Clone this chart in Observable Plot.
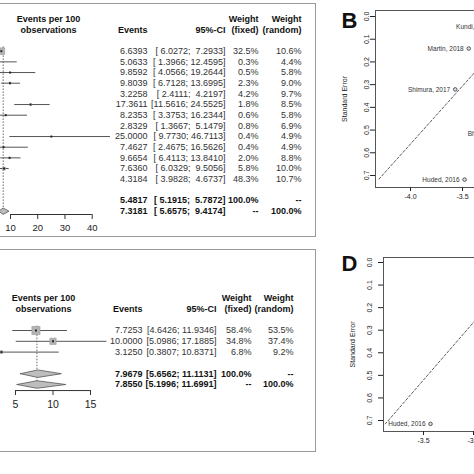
<!DOCTYPE html>
<html><head><meta charset="utf-8">
<script src="https://cdn.jsdelivr.net/npm/d3@7"></script>
<script src="https://cdn.jsdelivr.net/npm/@observablehq/plot@0.6"></script>
<style>
html,body{margin:0;padding:0;background:#fff;}
#root{position:relative;width:474px;height:474px;overflow:hidden;background:#fff;}
#root svg{position:absolute;overflow:hidden;}
#root svg text{white-space:pre;}
.box{position:absolute;border:1.5px solid #9a9a9a;box-sizing:border-box;}
</style></head><body><div id="root"></div>
<script>
// ---------- Panel A (forest, 13 studies) ----------
const eventsA = [6.6393, 5.0633, 9.8592, 9.8039, 3.2258, 17.3611, 8.2353, 2.8329, 25.0000, 7.4627, 9.6654, 7.6360, 4.3184];
const lowerA  = [6.0272, 1.3966, 4.0566, 6.7128, 2.4111, 11.5616, 3.3753, 1.3667, 9.7730, 2.4675, 6.4113, 6.0329, 3.9828];
const upperA  = [7.2933, 12.4595, 19.2644, 13.6995, 4.2197, 24.5525, 16.2344, 5.1479, 46.7113, 16.5626, 13.8410, 9.5056, 4.6737];
const wFixedA = [32.5, 0.3, 0.5, 2.3, 4.2, 1.8, 0.6, 0.8, 0.4, 0.4, 2.0, 5.8, 48.3];
const wRandA  = [10.6, 4.4, 5.8, 9.0, 9.7, 8.5, 5.8, 6.9, 4.9, 4.9, 8.8, 10.0, 10.7];
const pooledA = {fixed: [5.4817, 5.1915, 5.7872], random: [7.3181, 5.6575, 9.4174]};
const ticksA = [10, 20, 30, 40];

// ---------- Panel C (forest, 3 studies) ----------
const eventsC = [7.7253, 10.0000, 3.1250];
const lowerC  = [4.6426, 5.0986, 0.3807];
const upperC  = [11.9346, 17.1885, 10.8371];
const wFixedC = [58.4, 34.8, 6.8];
const wRandC  = [53.5, 37.4, 9.2];
const pooledC = {fixed: [7.9679, 5.6562, 11.1131], random: [7.8550, 5.1996, 11.6991]};
const ticksC = [5, 10, 15];

// ---------- shared forest header text ----------
const titleLines = ["Events per 100", "observations"];
const colHeads = {events: ["", "Events"], ci: ["", "95%-CI"], wf: ["Weight", "(fixed)"], wr: ["Weight", "(random)"]};

// ---------- Panel B (funnel) ----------
const studiesB = ["Kundi, 2019", "Martin, 2018", "Shimura, 2017", "Bhat, 2018", "Huded, 2016"];
const logEstB  = [-3.18, -3.44, -3.57, -3.10, -3.48];
const seB      = [0.048, 0.141, 0.321, 0.515, 0.718];
const pooledLogB = -2.90;
const ticksBx = [-4.0, -3.5, -3.0];

// ---------- Panel D (funnel) ----------
const studiesD = ["Huded, 2016"];
const logEstD  = [-3.43];
const seD      = [0.715];
const pooledLogD = -2.48;
const ticksDx = [-3.5, -3.0];

const ticksSE = [0, 0.1, 0.2, 0.3, 0.4, 0.5, 0.6, 0.7];

// ================================================================
const FONT = "'Liberation Sans', Arial, Helvetica, sans-serif";
const root = document.getElementById("root");
const f4 = d => d.toFixed(4);
const pct = d => d.toFixed(1) + "%";

function place(el, left, top) {
  el.style.left = left + "px";
  el.style.top = top + "px";
  root.appendChild(el);
}
function box(left, top, w, h) {
  const d = document.createElement("div");
  d.className = "box";
  Object.assign(d.style, {left: left + "px", top: top + "px", width: w + "px", height: h + "px"});
  root.appendChild(d);
}

function forest(events, lower, upper, wF, wR, pooled, ticks, L) {
  const studies = events.map((e, i) => ({row: i + 1, est: e, lo: lower[i], hi: upper[i], wf: wF[i], wr: wR[i]}));
  const n = studies.length;
  const summ = [
    {row: n + 2, est: pooled.fixed[0], lo: pooled.fixed[1], hi: pooled.fixed[2], wf: "100.0%", wr: "--", type: "fixed"},
    {row: n + 3, est: pooled.random[0], lo: pooled.random[1], hi: pooled.random[2], wf: "--", wr: "100.0%", type: "random"}
  ];
  // R-style padding of CI bounds to the widest entry in the column
  const all = studies.concat(summ);
  const wLo = d3.max(all, d => f4(d.lo).length), wHi = d3.max(all, d => f4(d.hi).length);
  const ciText = d => "[" + f4(d.lo).padStart(wLo, " ") + "; " + f4(d.hi).padStart(wHi, " ") + "]";

  const random = summ[1];
  const diamonds = summ.flatMap(s => [
    {type: s.type, x: s.lo, y: s.row}, {type: s.type, x: s.est, y: s.row - L.dh},
    {type: s.type, x: s.hi, y: s.row}, {type: s.type, x: s.est, y: s.row + L.dh},
    {type: s.type, x: s.lo, y: s.row}
  ]);
  const headMarks = [];
  headMarks.push(Plot.text(titleLines.map((t, i) => ({row: i - 2, text: t})), {
    y: "row", text: "text", frameAnchor: "left", dx: L.title, textAnchor: "middle",
    fontSize: L.fs, fontWeight: "bold", fill: "#111"
  }));
  for (const k of Object.keys(colHeads)) {
    const items = colHeads[k].map((t, i) => ({row: i - 2, text: t})).filter(d => d.text);
    headMarks.push(Plot.text(items, {
      y: "row", text: "text", frameAnchor: "left", dx: L.cols[k], textAnchor: "end",
      fontSize: L.fs, fontWeight: "bold", fill: "#111"
    }));
  }

  const colText = (data, key, fn, bold) => Plot.text(data, {
    y: "row", text: fn, frameAnchor: "left", dx: L.cols[key], textAnchor: "end",
    fontSize: L.fs, fontWeight: bold ? "bold" : "normal", fill: bold ? "#111" : "#333"
  });

  return Plot.plot({
    width: L.w, height: L.h,
    marginLeft: 0, marginRight: 0, marginTop: 0, marginBottom: L.h - L.axisY,
    style: {fontFamily: FONT, background: "transparent", color: "#222"},
    x: {domain: [ticks[0], ticks[ticks.length - 1]], range: L.xRange},
    y: {domain: [1, n + 3], range: L.yRange, axis: null},
    r: {type: "sqrt", domain: [0, d3.max(wF)], range: [0, L.rMax]},
    marks: [
      Plot.ruleX([random], {x: "est", y1: 0.6, y2: random.row, stroke: "#666", strokeDasharray: "1.5,1.5"}),
      Plot.ruleY(studies, {y: "row", x1: "lo", x2: "hi", stroke: "#555", strokeWidth: 1}),
      Plot.dot(studies, {x: "est", y: "row", r: "wf", symbol: "square", fill: "#b4b4b4", stroke: "#999", strokeWidth: 0.6}),
      Plot.dot(studies, {x: "est", y: "row", r: 1.1, symbol: "square", fill: "#222", stroke: "none"}),
      Plot.line(diamonds, {x: "x", y: "y", z: "type", fill: "#bdbdbd", stroke: "#555", strokeWidth: 0.8}),
      Plot.ruleY([{row: L.axisRow, a: d3.min(ticks), b: d3.max(ticks)}], {y: "row", x1: "a", x2: "b", stroke: "#333"}),
      Plot.axisX({ticks, tickSize: 5, tickPadding: L.tickPad, fontSize: L.tfs, tickFormat: d => String(d), stroke: "#333"}),
      ...headMarks,
      colText(studies, "events", d => f4(d.est), false),
      colText(studies, "ci", ciText, false),
      colText(studies, "wf", d => pct(d.wf), false),
      colText(studies, "wr", d => pct(d.wr), false),
      colText(summ, "events", d => f4(d.est), true),
      colText(summ, "ci", ciText, true),
      colText(summ, "wf", d => d.wf, true),
      colText(summ, "wr", d => d.wr, true)
    ]
  });
}

function funnel(names, te, se, mu, xTicks, tag, L) {
  const pts = names.map((s, i) => ({study: s, te: te[i], se: se[i]}));
  const seMax = d3.max(se);
  const bounds = [-1, 1].flatMap(side => [
    {side, se: 0, x: mu}, {side, se: seMax, x: mu + side * 1.96 * seMax}
  ]);
  return Plot.plot({
    width: L.w, height: L.h,
    marginLeft: L.ml, marginTop: L.mt, marginBottom: L.mb, marginRight: 0,
    style: {fontFamily: FONT, background: "transparent", color: "#222"},
    x: {domain: [xTicks[0], xTicks[1]], range: L.xRange},
    y: {domain: [0, 0.7], range: L.yRange},
    marks: [
      Plot.frame({stroke: "#555"}),
      Plot.line(bounds, {x: "x", y: "se", z: "side", stroke: "#333", strokeWidth: 0.8, strokeDasharray: "2.5,2"}),
      Plot.dot(pts, {x: "te", y: "se", r: 1.8, stroke: "#333", fill: "#ddd", strokeWidth: 0.8}),
      Plot.text(pts, {x: "te", y: "se", text: "study", textAnchor: "end", dx: -5, fontSize: 6.5, fill: "#333"}),
      Plot.axisX({ticks: xTicks, tickSize: 4, tickPadding: 3, fontSize: 7, tickFormat: d => d.toFixed(1), label: null}),
      Plot.axisY({ticks: ticksSE, tickSize: 5, tickPadding: L.ytp, tickRotate: -90, fontSize: 7,
                  tickFormat: d => d.toFixed(1), label: "Standard Error", labelAnchor: "center",
                  labelOffset: L.lo, labelArrow: "none"}),
      Plot.text([tag], {frameAnchor: "top-left", dx: L.tagDx, dy: L.tagDy, lineAnchor: "top", textAnchor: "start",
                        fontSize: 22, fontWeight: "bold", fill: "#111"})
    ]
  });
}

// Panel A
const svgA = forest(eventsA, lowerA, upperA, wFixedA, wRandA, pooledA, ticksA, {
  w: 316, h: 240, axisY: 214, axisRow: 16.31, xRange: [10, 91.7], yRange: [50.7, 210.7],
  rMax: 4.6, dh: 0.3, fs: 9, tfs: 9.5, tickPad: 5, title: 48,
  cols: {events: 147, ci: 225, wf: 258, wr: 301}
});
place(svgA, 0, 0);
box(-10, 3, 326, 234);

// Panel C
const svgC = forest(eventsC, lowerC, upperC, wFixedC, wRandC, pooledC, ticksC, {
  w: 316, h: 234, axisY: 150, axisRow: 6.56, xRange: [15, 90], yRange: [90, 144],
  rMax: 4.6, dh: 0.35, fs: 9, tfs: 10.5, tickPad: 5, title: 43,
  cols: {events: 142, ci: 216, wf: 251, wr: 293}
});
place(svgC, 0, 240);
box(-10, 249, 326, 203);

// Panel B
const svgB = funnel(studiesB, logEstB, seB, pooledLogB, ticksBx, "B", {
  w: 200, h: 240, ml: 35, mt: 10, mb: 53, xRange: [70, 122], yRange: [16, 175],
  ytp: 2, lo: 33, tagDx: -34, tagDy: 2
});
place(svgB, 340, 0);

// Panel D
const svgD = funnel(studiesD, logEstD, seD, pooledLogD, ticksDx, "D", {
  w: 200, h: 234, ml: 43, mt: 17, mb: 43, xRange: [83, 133], yRange: [22, 180],
  ytp: 7, lo: 33, tagDx: -42, tagDy: -2
});
place(svgD, 340, 240);
</script></body></html>
